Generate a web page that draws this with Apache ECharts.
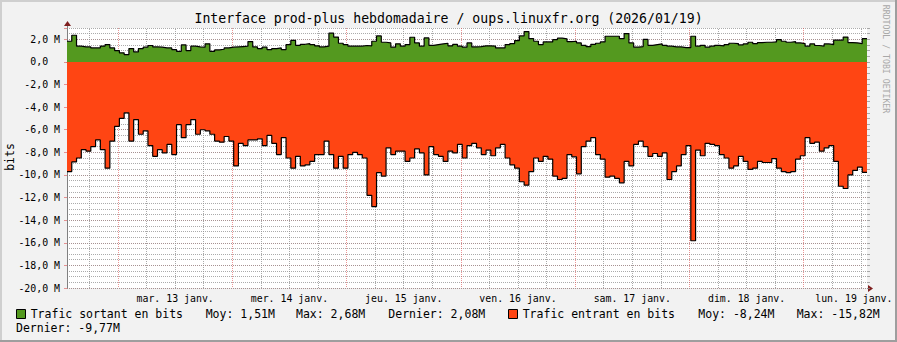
<!DOCTYPE html>
<html><head><meta charset="utf-8">
<script src="https://cdn.jsdelivr.net/npm/echarts@6/dist/echarts.min.js"></script>
<style>html,body{margin:0;padding:0;background:#F2F2F2;overflow:hidden}#c{width:897px;height:342px}</style>
</head><body><div id="c"></div>
<script>
// time axis: hours after 2026-01-12 00:00, one value per hour
const START_HOUR = 13.29;
const STEP_HOURS = 1;

// Trafic sortant (M bits)
const outBits = [1.83,2.36,1.39,1.33,1.33,1.24,1.24,1.4,1.53,1.24,
1.0,0.8,0.65,1.18,0.88,1.18,1.3,1.45,1.33,1.3,
1.24,1.24,1.09,0.94,1.5,1.0,1.39,1.33,1.3,1.6,
0.94,1.06,1.12,1.24,1.3,1.33,1.36,1.39,1.8,1.33,
1.18,1.3,1.09,1.18,1.24,1.09,1.53,1.9,1.47,1.56,
1.62,1.53,1.42,1.33,1.39,2.54,2.2,1.65,1.53,1.39,
1.39,1.39,1.45,1.42,1.83,2.3,1.74,1.68,1.3,1.6,
1.39,1.53,2.18,1.68,1.39,2.12,1.47,1.53,1.59,1.65,
1.42,1.55,1.39,1.3,1.68,1.33,1.36,1.42,1.42,1.39,
1.24,1.24,1.53,1.62,1.89,2.3,2.68,2.06,1.83,1.53,
1.77,1.77,1.98,2.1,2.04,1.8,1.83,1.68,1.47,1.36,
1.56,1.65,1.77,2.27,2.27,2.27,2.06,2.5,1.68,1.3,
1.36,2.0,1.47,1.53,1.59,1.47,1.39,1.33,1.33,1.27,
1.27,2.27,1.39,1.47,1.3,1.39,1.47,1.42,1.53,1.65,
1.62,1.5,1.59,1.74,1.62,1.71,1.74,1.74,1.77,1.98,
1.83,1.74,1.8,1.68,1.62,1.39,1.59,1.45,1.39,1.59,
1.53,1.92,1.92,2.2,1.71,1.68,1.62,2.06];

// Trafic entrant (M bits, drawn negative)
const inBits = [-9.7,-8.85,-8.5,-7.76,-7.9,-7.5,-6.9,-7.76,-9.4,-7.0,
-5.7,-5.0,-4.5,-7.0,-5.1,-6.4,-6.1,-7.4,-8.35,-7.76,
-8.05,-7.3,-8.2,-5.55,-6.7,-5.55,-5.1,-6.4,-6.0,-6.1,
-6.4,-7.0,-7.1,-6.6,-7.0,-9.2,-7.2,-7.4,-6.9,-6.9,
-6.8,-7.4,-6.5,-7.2,-8.2,-6.7,-8.5,-9.4,-8.35,-9.2,
-9.1,-8.8,-8.2,-8.2,-7.0,-8.2,-9.4,-8.35,-9.4,-8.2,
-8.0,-8.2,-8.5,-11.8,-12.8,-9.8,-10.1,-7.6,-8.2,-7.9,
-7.9,-8.8,-8.5,-7.7,-8.05,-10.0,-7.5,-8.2,-8.35,-8.8,
-7.9,-8.05,-7.3,-8.5,-7.4,-7.2,-7.6,-8.2,-7.8,-8.3,
-7.6,-7.3,-8.5,-9.1,-9.4,-10.6,-10.9,-9.7,-8.5,-8.8,
-8.35,-8.6,-10.1,-10.4,-10.3,-8.2,-8.4,-9.9,-7.5,-7.0,
-6.7,-8.2,-8.6,-10.2,-10.1,-10.3,-10.7,-8.8,-9.2,-7.3,
-7.0,-7.5,-8.35,-8.1,-8.35,-8.05,-10.4,-9.7,-9.2,-8.2,
-7.4,-15.82,-7.8,-8.3,-7.2,-7.3,-7.4,-8.2,-8.5,-9.4,
-9.2,-8.35,-8.8,-9.5,-9.4,-8.8,-8.9,-8.9,-8.55,-9.4,
-9.7,-9.8,-9.7,-8.6,-8.3,-6.7,-7.2,-7.1,-7.9,-7.6,
-7.4,-8.8,-11.0,-11.2,-10.0,-9.6,-9.3,-9.77];

const dayLabels = ['mar. 13 janv.','mer. 14 janv.','jeu. 15 janv.','ven. 16 janv.','sam. 17 janv.','dim. 18 janv.','lun. 19 janv.'];
const dayNoons = [36, 60, 84, 108, 132, 156, 180];

const titleText = 'Interface prod-plus hebdomadaire / oups.linuxfr.org (2026/01/19)';
const legendOut = ['Trafic sortant en bits', 'Moy: 1,51M', 'Max: 2,68M', 'Dernier: 2,08M'];
const legendIn = ['Trafic entrant en bits', 'Moy: -8,24M', 'Max: -15,82M', 'Dernier: -9,77M'];

const GREEN = '#54991F';
const RED = '#FF4513';
const MONO = '"DejaVu Sans Mono", monospace';
const MINOR = 'rgba(143,143,143,0.75)';
const MAJOR = 'rgba(222,80,80,0.6)';
const ARROW = '#7F1F1F';
const AXIS = '#808080';

const endHour = START_HOUR + STEP_HOURS * outBits.length;
function toSteps(vals) {
  const d = vals.map((v, i) => [START_HOUR + i * STEP_HOURS, v]);
  d.push([endHour, vals[vals.length - 1]]);
  return d;
}
const midnights = [], sixHours = [];
for (let h = Math.ceil(START_HOUR / 6) * 6; h <= endHour; h += 6) {
  if (h % 24 === 0) midnights.push(h); else sixHours.push(h);
}

const chart = echarts.init(document.getElementById('c'), null, {renderer: 'svg'});
const fmtY = v => {
  if (Math.abs(v) < 1e-9) return '0,0  ';
  if (Math.abs(v % 2) > 1e-9 || v > 2.5) return '';
  return v.toFixed(1).replace('.', ',') + ' M';
};
const fmtX = v => {
  const k = dayNoons.indexOf(Math.round(v));
  if (k < 0) return '';
  // last label is nudged left so it stays inside the picture
  return k === dayLabels.length - 1 ? '{last|' + dayLabels[k] + '}' : dayLabels[k];
};
const lbl = (t, x, y) => ({type: 'text', x: x, y: y, silent: true,
  style: {text: t, font: '11.5px ' + MONO, fill: '#000', align: 'left', verticalAlign: 'middle'}});

const staticGraphics = [
  {type: 'rect', silent: true, shape: {x: 0, y: 0, width: 897, height: 2}, style: {fill: '#CFCFCF'}},
  {type: 'rect', silent: true, shape: {x: 0, y: 0, width: 2, height: 342}, style: {fill: '#CFCFCF'}},
  {type: 'rect', silent: true, shape: {x: 0, y: 340, width: 897, height: 2}, style: {fill: '#9E9E9E'}},
  {type: 'rect', silent: true, shape: {x: 895, y: 0, width: 2, height: 342}, style: {fill: '#9E9E9E'}},
  {type: 'text', silent: true, x: 448.5, y: 18, style: {text: titleText, font: '13.2px ' + MONO, fill: '#000', align: 'center', verticalAlign: 'middle'}},
  {type: 'text', silent: true, x: 10, y: 157, rotation: Math.PI / 2, style: {text: 'bits', font: '11.5px ' + MONO, fill: '#000', align: 'center', verticalAlign: 'middle'}},
  {type: 'text', silent: true, x: 886, y: 59, rotation: -Math.PI / 2, style: {text: 'RRDTOOL / TOBI OETIKER', font: '8.2px ' + MONO, fill: '#A8A8A8', align: 'center', verticalAlign: 'middle'}},
  {type: 'rect', silent: true, shape: {x: 16.5, y: 309.5, width: 9, height: 9}, style: {fill: GREEN, stroke: '#000', lineWidth: 1}},
  lbl(legendOut[0], 30.7, 314), lbl(legendOut[1], 205.7, 314), lbl(legendOut[2], 296, 314), lbl(legendOut[3], 388.3, 314),
  {type: 'rect', silent: true, shape: {x: 508.5, y: 309.5, width: 9, height: 9}, style: {fill: RED, stroke: '#000', lineWidth: 1}},
  lbl(legendIn[0], 522.7, 314), lbl(legendIn[1], 698.3, 314), lbl(legendIn[2], 796.7, 314), lbl(legendIn[3], 16, 328)
];

chart.setOption({
  animation: false,
  backgroundColor: '#F2F2F2',
  grid: {left: 67, right: 30, top: 28, bottom: 54, show: true, backgroundColor: '#FFFFFF', borderWidth: 0,
    containLabel: false, outerBoundsMode: 'none'},
  xAxis: [{
    type: 'value', min: START_HOUR, max: endHour, position: 'bottom',
    axisLine: {show: true, lineStyle: {color: AXIS, width: 1}},
    axisTick: {show: true, customValues: midnights, length: 3, lineStyle: {color: MAJOR}},
    axisLabel: {show: true, customValues: dayNoons, margin: 5, fontFamily: MONO, fontSize: 9.9, color: '#000',
      formatter: fmtX,
      rich: {last: {fontFamily: MONO, fontSize: 9.9, color: '#000', padding: [0, 14, 0, 0]}}},
    splitLine: {show: true, lineStyle: {color: MAJOR, type: [1, 1], width: 1}}
  }, {
    type: 'value', min: START_HOUR, max: endHour, position: 'bottom',
    axisLine: {show: false}, axisLabel: {show: false},
    axisTick: {show: true, customValues: sixHours, length: 2, lineStyle: {color: MINOR}},
    splitLine: {show: false}
  }],
  yAxis: [{
    type: 'value', min: -20, max: 3, interval: 2, position: 'left',
    axisLine: {show: true, lineStyle: {color: AXIS}},
    axisTick: {show: true, length: 3, lineStyle: {color: MAJOR}},
    axisLabel: {margin: 7, fontFamily: MONO, fontSize: 9.9, color: '#000', formatter: fmtY},
    splitLine: {show: true, showMaxLine: false, lineStyle: {color: MAJOR, type: [1, 1], width: 1}}
  }, {
    type: 'value', min: -20, max: 3, interval: 0.5, position: 'right',
    axisLine: {show: false}, axisLabel: {show: false},
    axisTick: {show: true, length: 3, lineStyle: {color: MINOR}},
    splitLine: {show: true, lineStyle: {color: MINOR, type: [1, 1], width: 1}}
  }],
  series: [{
    type: 'line', data: [[START_HOUR, 0]], showSymbol: false, silent: true, z: 1,
    lineStyle: {width: 0, opacity: 0},
    markLine: {silent: true, symbol: ['none', 'none'], z: 1, animation: false, label: {show: false},
      lineStyle: {color: MINOR, type: [1, 1], width: 1},
      data: sixHours.map(h => ({xAxis: h}))}
  }, {
    type: 'line', data: toSteps(outBits), step: 'end', showSymbol: false, silent: true, z: 2,
    lineStyle: {color: '#000', width: 1.2}, itemStyle: {color: GREEN},
    areaStyle: {color: GREEN, opacity: 1, origin: 'auto'}
  }, {
    type: 'line', data: toSteps(inBits), step: 'end', showSymbol: false, silent: true, z: 2,
    lineStyle: {color: '#000', width: 1.2}, itemStyle: {color: RED},
    areaStyle: {color: RED, opacity: 1, origin: 'auto'}
  }],
  graphic: staticGraphics
});

// axis arrows, placed from the axes' own scales
const xEnd = chart.convertToPixel({xAxisIndex: 0}, endHour);
const xStart = chart.convertToPixel({xAxisIndex: 0}, START_HOUR);
const yBottom = chart.convertToPixel({yAxisIndex: 0}, -20);
const yTop = chart.convertToPixel({yAxisIndex: 0}, 3);
chart.setOption({graphic: staticGraphics.concat([
  {type: 'line', silent: true, shape: {x1: xEnd, y1: yBottom + 0.5, x2: xEnd + 2, y2: yBottom + 0.5}, style: {stroke: AXIS, lineWidth: 1}},
  {type: 'line', silent: true, shape: {x1: xStart + 0.5, y1: yTop, x2: xStart + 0.5, y2: yTop - 3}, style: {stroke: AXIS, lineWidth: 1}},
  {type: 'polygon', silent: true, shape: {points: [[xEnd + 1, yBottom - 3], [xEnd + 6, yBottom + 0.5], [xEnd + 1, yBottom + 4]]}, style: {fill: ARROW}},
  {type: 'polygon', silent: true, shape: {points: [[xStart - 3, yTop - 2], [xStart + 0.5, yTop - 7], [xStart + 4, yTop - 2]]}, style: {fill: ARROW}}
])});
</script></body></html>
